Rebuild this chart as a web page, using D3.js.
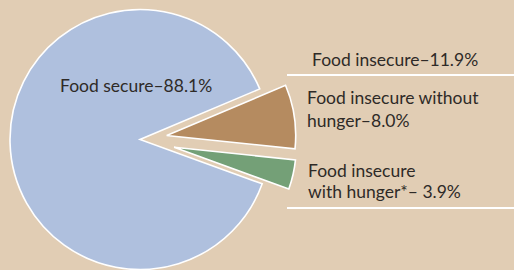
<!DOCTYPE html>
<html>
<head>
<meta charset="utf-8">
<script src="https://cdn.jsdelivr.net/npm/d3@7"></script>
<style>
  html, body { margin: 0; padding: 0; background: #e1cdb4; }
  svg { display: block; }
  text { font-family: Lato, "Open Sans", sans-serif; fill: #2e2a27; }
</style>
</head>
<body>
<div id="chart"></div>
<script>
// data
const categories = ["Food insecure without hunger", "Food insecure with hunger", "Food secure"];
const shares = [8.0, 3.9, 88.1];
const labelLines = [
  ["Food insecure without", "hunger–8.0%"],
  ["Food insecure", "with hunger*– 3.9%"],
  ["Food secure–88.1%"]
];
const groupLabel = "Food insecure–11.9%";

const width = 514, height = 270;
const cx = 140, cy = 139.5;

const svg = d3.select("#chart").append("svg")
  .attr("width", width)
  .attr("height", height);

svg.append("rect")
  .attr("width", width)
  .attr("height", height)
  .attr("fill", "#e1cdb4");

const colors = ["#b58b60", "#74a077", "#afc0de"];
const radii = [129, 122, 130];
const explode = [27, 35, 0];

// brown slice starts at about -23deg from 3 o'clock
const pie = d3.pie()
  .sort(null)
  .value(d => d)
  .startAngle(67.1 * Math.PI / 180)
  .endAngle(67.1 * Math.PI / 180 + 2 * Math.PI);

const arcs = pie(shares);

const g = svg.append("g")
  .attr("transform", `translate(${cx},${cy})`);

g.selectAll("path")
  .data(arcs)
  .enter()
  .append("path")
  .attr("transform", (d, i) => {
    const mid = (d.startAngle + d.endAngle) / 2;
    const dx = Math.sin(mid) * explode[i];
    const dy = -Math.cos(mid) * explode[i];
    return `translate(${dx},${dy})`;
  })
  .attr("d", (d, i) => d3.arc().innerRadius(0).outerRadius(radii[i])(d))
  .attr("fill", (d, i) => colors[i])
  .attr("stroke", "#fff")
  .attr("stroke-width", 1.6)
  .attr("stroke-linejoin", "miter");

// label rules
const rules = [75, 208];
svg.selectAll("line.rule")
  .data(rules)
  .enter()
  .append("line")
  .attr("class", "rule")
  .attr("x1", 287)
  .attr("x2", width)
  .attr("y1", d => d)
  .attr("y2", d => d)
  .attr("stroke", "#fff")
  .attr("stroke-width", 2);

const fs = 17.5;

svg.append("text")
  .attr("x", 312)
  .attr("y", 66)
  .attr("font-size", fs)
  .text(groupLabel);

const labelPos = [[307, 104, 22.5], [308, 177, 20.5], [60, 92, 0]];
labelLines.forEach((lines, i) => {
  const t = svg.append("text")
    .attr("x", labelPos[i][0])
    .attr("y", labelPos[i][1])
    .attr("font-size", fs);
  lines.forEach((s, j) => {
    t.append("tspan")
      .attr("x", labelPos[i][0])
      .attr("dy", j === 0 ? 0 : labelPos[i][2])
      .text(s);
  });
});
</script>
</body>
</html>
